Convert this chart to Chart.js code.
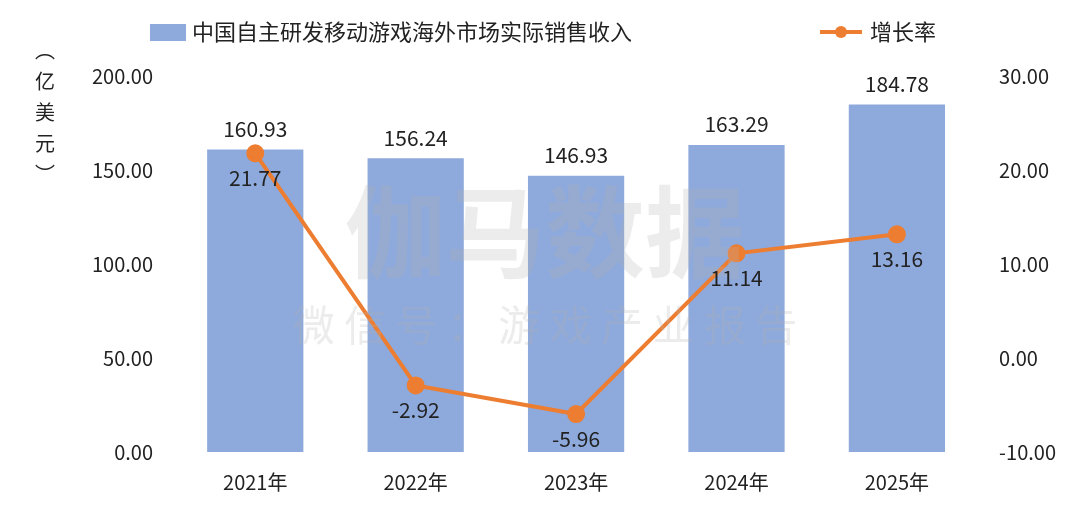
<!DOCTYPE html>
<html><head><meta charset="utf-8">
<script src="https://cdn.jsdelivr.net/npm/chart.js@4/dist/chart.umd.min.js"></script>
<style>html,body{margin:0;background:#fff}#w{width:1080px;height:520px}</style>
</head><body><div id="w"><canvas id="c"></canvas></div>
<script>
const categories=["2021年","2022年","2023年","2024年","2025年"];
const revenue=[160.93,156.24,146.93,163.29,184.78];
const growth=[21.77,-2.92,-5.96,11.14,13.16];
const leftTicks=[0,50,100,150,200];
const rightTicks=[-10,0,10,20,30];
const FONT='"Noto Sans CJK SC","Noto Sans",sans-serif';
const BLUE='#8EA9DB',ORANGE='#ED7D31';
const deco={id:'deco',
 afterDatasetsDraw(ch){const c=ch.ctx;c.save();
  c.fillStyle='rgba(180,180,180,0.25)';c.textAlign='center';c.textBaseline='middle';
  c.font='bold 100px '+FONT;c.fillText('伽马数据',545,232);
  c.font='42px '+FONT;c.fillText('微 信 号 ： 游 戏 产 业 报 告',545,325);
  c.font='21px '+FONT;c.fillStyle='#222';c.textAlign='center';
  const m0=ch.getDatasetMeta(0),m1=ch.getDatasetMeta(1);
  m0.data.forEach((b,i)=>{c.textBaseline='bottom';c.fillText(revenue[i].toFixed(2),b.x,b.y-10);});
  m1.data.forEach((p,i)=>{c.textBaseline='top';c.fillText(growth[i].toFixed(2),p.x,p.y+14);});
  c.font='20px '+FONT;c.textBaseline='middle';
  ['︵','亿','美','元','︶'].forEach((t,i)=>c.fillText(t,45,50+i*31));
  c.fillStyle=BLUE;c.fillRect(150,24,36,17);
  c.fillStyle='#222';c.textAlign='left';c.font='22px '+FONT;c.fillText('中国自主研发移动游戏海外市场实际销售收入',192,32);
  c.strokeStyle=ORANGE;c.lineWidth=4;c.beginPath();c.moveTo(820,32);c.lineTo(862,32);c.stroke();
  c.fillStyle=ORANGE;c.beginPath();c.arc(841,32,6,0,Math.PI*2);c.fill();
  c.fillStyle='#222';c.fillText('增长率',870,32);
  c.restore();}};
new Chart(document.getElementById('c'),{
 data:{labels:categories,datasets:[
  {type:'bar',data:revenue,backgroundColor:BLUE,yAxisID:'y',barPercentage:0.6,categoryPercentage:1,order:2},
  {type:'line',data:growth,borderColor:ORANGE,backgroundColor:ORANGE,borderWidth:4,pointRadius:7,pointBackgroundColor:ORANGE,yAxisID:'y1',order:1}]},
 options:{responsive:true,maintainAspectRatio:false,animation:false,
  layout:{padding:{top:76,left:78,right:10,bottom:16}},
  plugins:{legend:{display:false},tooltip:{enabled:false}},
  scales:{
   x:{grid:{display:false},border:{display:false},ticks:{color:'#222',font:{family:FONT,size:20},padding:10}},
   y:{position:'left',min:0,max:200,afterBuildTicks:a=>{a.ticks=leftTicks.map(v=>({value:v}))},grid:{display:false},border:{display:false},
      ticks:{color:'#222',font:{family:FONT,size:20},padding:14,callback:v=>v.toFixed(2)}},
   y1:{position:'right',min:-10,max:30,afterBuildTicks:a=>{a.ticks=rightTicks.map(v=>({value:v}))},grid:{display:false},border:{display:false},
      ticks:{color:'#222',font:{family:FONT,size:20},padding:14,callback:v=>v.toFixed(2)}}}},
 plugins:[deco]});
</script></body></html>
